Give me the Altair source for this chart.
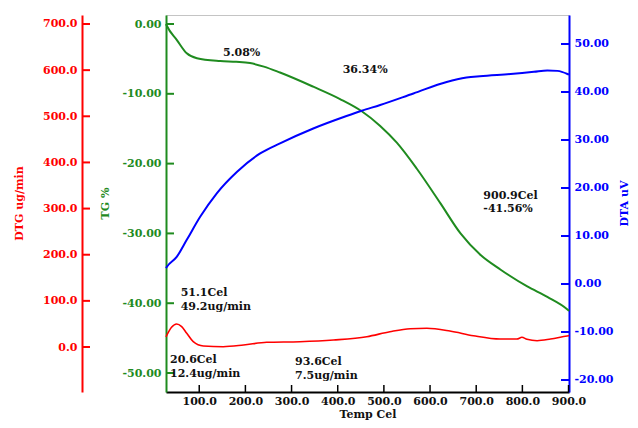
import altair as alt
import pandas as pd

# ---- data ----
temp_tg = [28, 30, 51.6, 73, 95, 145.5, 180, 210, 240, 275, 347, 405, 452, 492, 528, 571,
           622.6, 666, 709.5, 753, 810.6, 854, 897.6, 901]
tg = [0.0, -0.29, -2.3, -4.2, -4.9, -5.3, -5.42, -5.6, -6.1, -6.95, -8.98, -10.75, -12.5,
      -14.6, -17.0, -20.7, -25.7, -30.0, -33.1, -35.2, -37.6, -39.1, -40.9, -41.1]

temp_dta = [28, 30, 51.6, 73, 102, 138, 182, 232, 275, 347, 419, 452, 492, 564, 636, 679,
            708, 774.6, 825, 854, 876, 897.6, 901]
dta = [3.3, 3.6, 5.7, 9.2, 14.0, 18.9, 23.4, 27.2, 29.3, 32.4, 35.0, 36.1, 37.3, 39.7, 42.1,
       43.0, 43.3, 43.75, 44.2, 44.5, 44.4, 43.75, 43.6]

temp_dtg = [28, 40, 51, 62, 73, 87, 109, 152, 196, 246, 318, 391, 463, 513, 557, 593, 643,
            694, 752, 788, 799, 810, 832, 861, 897, 901]
dtg = [22, 42.7, 49.8, 44, 29.7, 11.5, 2.2, 0.7, 4.3, 10.2, 11.5, 15.2, 22.3, 33.2, 39.7,
       40.5, 34.7, 24.5, 17.3, 17.3, 21, 16.7, 13.7, 17.3, 23.9, 24.5]

x_ticks = [100, 200, 300, 400, 500, 600, 700, 800, 900]
tg_ticks = [0, -10, -20, -30, -40, -50]
dta_ticks = [50, 40, 30, 20, 10, 0, -10, -20]
dtg_ticks = [700, 600, 500, 400, 300, 200, 100, 0]

note_text = ["5.08%", "36.34%", "900.9Cel", "-41.56%", "51.1Cel", "49.2ug/min",
             "20.6Cel", "12.4ug/min", "93.6Cel", "7.5ug/min"]
note_temp = [151.5, 410.8, 715.4, 715.4, 59.8, 59.8, 36.7, 36.7, 307.5, 307.5]
note_tg = [-4.11, -6.55, -24.64, -26.55, -38.5, -40.5, -48.1, -50.2, -48.47, -50.43]

# ---- styling ----
W, H = 403, 377
FONT = "DejaVu Serif"
GREEN = "#1f8b1f"
RED = "#ff0000"
BLUE = "#0000ff"

x_dom = [28, 901]
tg_dom = [-52.72, 1.29]
dta_dom = [-22.5, 56.04]
dtg_dom = [-97.5, 719.5]


def fmt(p):
    return "replace(format(datum.value,'." + str(p) + "f'),'\u2212','-')"


x_enc = alt.X("T:Q", scale=alt.Scale(domain=x_dom, nice=False, zero=False),
              axis=alt.Axis(values=x_ticks, title="Temp Cel", labelExpr=fmt(1), ticks=False,
                            grid=False, domainColor="black", domainWidth=2, labelFlush=False,
                            labelColor="#111", labelFont=FONT, labelFontSize=11,
                            labelFontWeight="bold", labelPadding=3, titleFont=FONT,
                            titleFontSize=11, titleFontWeight="bold", titleColor="#111",
                            titleBaseline="middle", titleY=22))

df_tg = pd.DataFrame({"T": temp_tg, "V": tg})
df_dta = pd.DataFrame({"T": temp_dta, "V": dta})
df_dtg = pd.DataFrame({"T": temp_dtg, "V": dtg})


def yaxis(color, title, orient, p, values, tx, offset=0):
    return alt.Axis(orient=orient, values=values, labelExpr=fmt(p), ticks=False, grid=False,
                    domainColor=color, domainWidth=2, labelColor=color, labelFont=FONT,
                    labelFontSize=11, labelFontWeight="bold", labelPadding=5, title=title,
                    titleColor=color, titleFont=FONT, titleFontSize=11, titleFontWeight="bold",
                    titleAngle=270, titleBaseline="middle", titleX=tx, titleY=188,
                    offset=offset)


tg_line = alt.Chart(df_tg).mark_line(color=GREEN, strokeWidth=2, interpolate="monotone").encode(
    x=x_enc,
    y=alt.Y("V:Q", scale=alt.Scale(domain=tg_dom, nice=False, zero=False),
            axis=yaxis(GREEN, "TG %", "left", 2, tg_ticks, -61)))

dta_line = alt.Chart(df_dta).mark_line(color=BLUE, strokeWidth=2, interpolate="monotone").encode(
    x=x_enc,
    y=alt.Y("V:Q", scale=alt.Scale(domain=dta_dom, nice=False, zero=False),
            axis=yaxis(BLUE, "DTA uV", "right", 2, dta_ticks, 55)))

dtg_line = alt.Chart(df_dtg).mark_line(color=RED, strokeWidth=1.6, interpolate="monotone").encode(
    x=x_enc,
    y=alt.Y("V:Q", scale=alt.Scale(domain=dtg_dom, nice=False, zero=False),
            axis=yaxis(RED, "DTG ug/min", "left", 1, dtg_ticks, -63, offset=84)))

# inward tick marks
tg_tk = alt.Chart(pd.DataFrame({"V": tg_ticks})).mark_rule(color=GREEN, strokeWidth=2).encode(
    x=alt.value(0), x2=alt.value(8),
    y=alt.Y("V:Q", scale=alt.Scale(domain=tg_dom, nice=False, zero=False), axis=None))
dta_tk = alt.Chart(pd.DataFrame({"V": dta_ticks})).mark_rule(color=BLUE, strokeWidth=2).encode(
    x=alt.value(W - 8), x2=alt.value(W),
    y=alt.Y("V:Q", scale=alt.Scale(domain=dta_dom, nice=False, zero=False), axis=None))
dtg_tk = alt.Chart(pd.DataFrame({"V": dtg_ticks})).mark_rule(color=RED, strokeWidth=2).encode(
    x=alt.value(-84), x2=alt.value(-76),
    y=alt.Y("V:Q", scale=alt.Scale(domain=dtg_dom, nice=False, zero=False), axis=None))
x_tk = alt.Chart(pd.DataFrame({"T": x_ticks})).mark_rule(color="black", strokeWidth=1.5).encode(
    x=x_enc, y=alt.value(H - 7), y2=alt.value(H))

notes = alt.Chart(pd.DataFrame({"T": note_temp, "V": note_tg, "txt": note_text})).mark_text(
    align="left", baseline="middle", font=FONT, fontSize=11, fontWeight="bold", color="#111"
).encode(
    x=x_enc,
    y=alt.Y("V:Q", scale=alt.Scale(domain=tg_dom, nice=False, zero=False), axis=None),
    text="txt:N")

chart = alt.layer(tg_line, dta_line, dtg_line, tg_tk, dta_tk, dtg_tk, x_tk, notes).resolve_scale(
    y="independent"
).properties(
    width=W, height=H,
    autosize=alt.AutoSizeParams(type="none"),
    padding={"left": 158, "top": 7, "right": 61, "bottom": 28},
    background="white",
).configure_view(stroke="#c4c4c4", strokeWidth=1)

chart.save("out.html", embed_options={"renderer": "svg", "actions": False})
